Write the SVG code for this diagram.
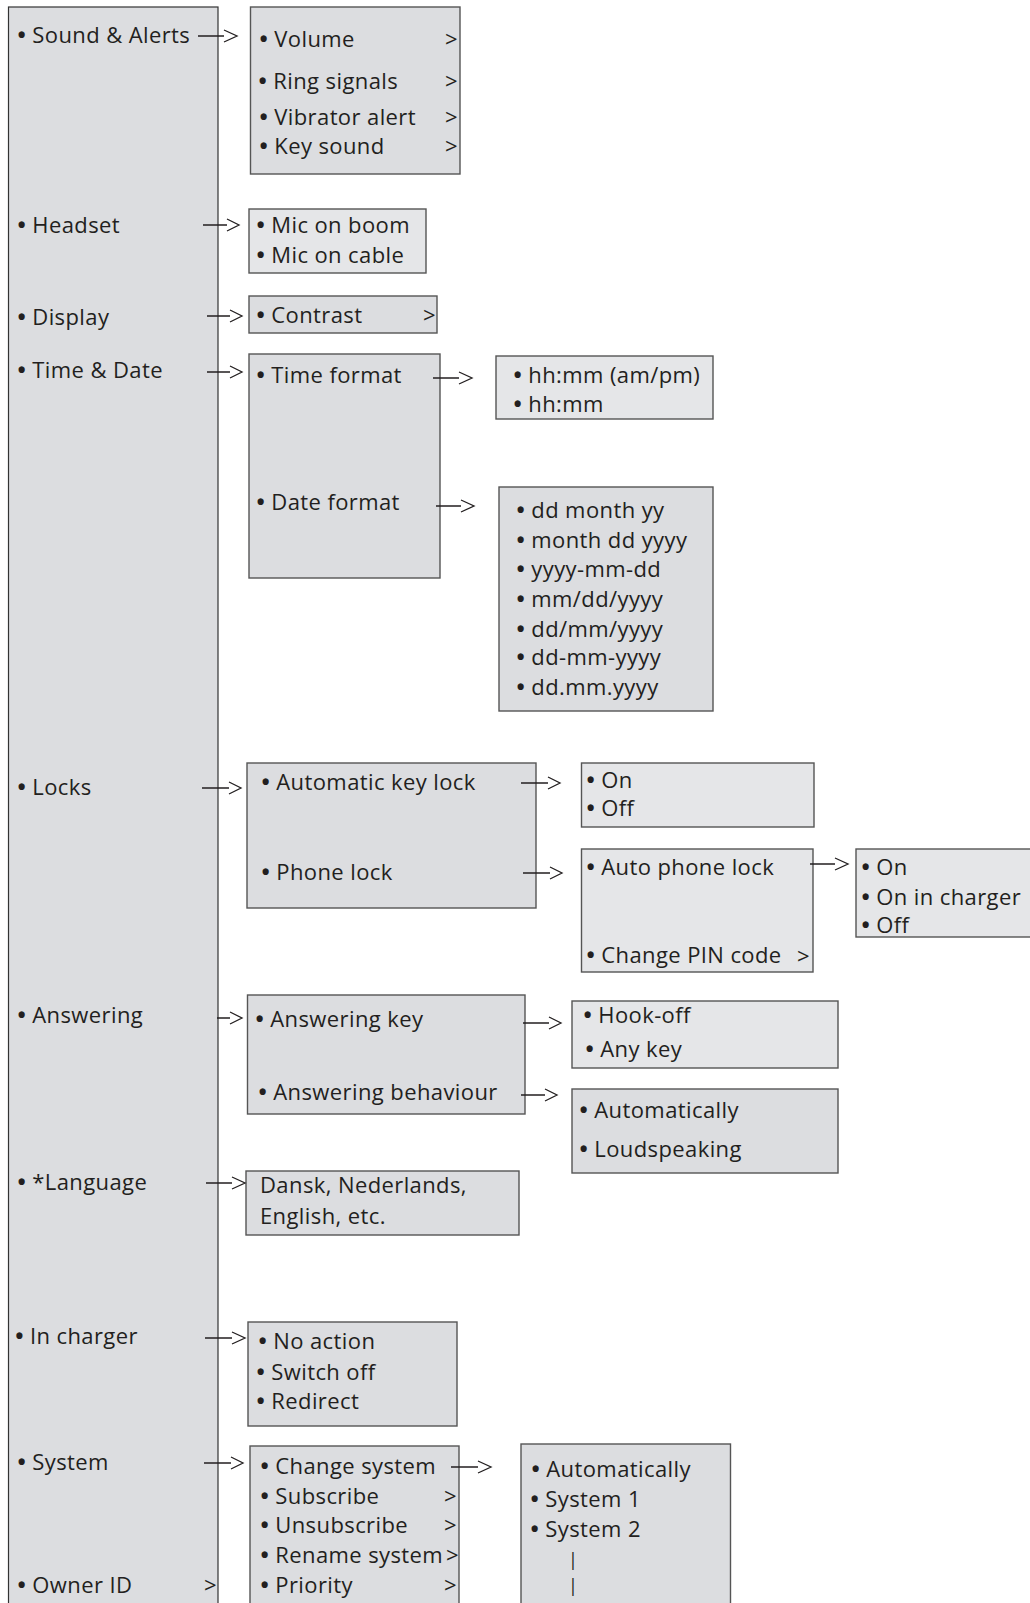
<svg xmlns="http://www.w3.org/2000/svg" width="1030" height="1603" viewBox="0 0 1030 1603">
<style>
text{font-family:"Open Sans","Liberation Sans",sans-serif;font-size:22px;letter-spacing:0.4px;fill:#231f20}
.b{font-weight:bold}
.gt{letter-spacing:0}
.box{fill:#dcdde0;stroke:#555;stroke-width:1.4}
.lt{fill:#e5e6e8}
.main{fill:#dcdde0;stroke:#333;stroke-width:1.2}
.conn path{fill:none;stroke:#231f20;stroke-width:1.3}
.bar{font-size:18px}
</style>
<rect width="1030" height="1603" fill="#fff"/>
<g id="main">
<rect class="main" x="8.5" y="7" width="209.5" height="1610"/>
<text x="17.5" y="43"><tspan class="b">•</tspan> Sound &amp; Alerts</text>
<text x="17.5" y="233"><tspan class="b">•</tspan> Headset</text>
<text x="17.5" y="325"><tspan class="b">•</tspan> Display</text>
<text x="17.5" y="378"><tspan class="b">•</tspan> Time &amp; Date</text>
<text x="17.5" y="795"><tspan class="b">•</tspan> Locks</text>
<text x="17.5" y="1023"><tspan class="b">•</tspan> Answering</text>
<text x="17.5" y="1190"><tspan class="b">•</tspan> *Language</text>
<text x="15.2" y="1344"><tspan class="b">•</tspan> In charger</text>
<text x="17.5" y="1470"><tspan class="b">•</tspan> System</text>
<text x="17.5" y="1593"><tspan class="b">•</tspan> Owner ID</text>
<text class="gt" x="204" y="1593">&gt;</text>
</g>
<g id="sound">
<rect class="box" x="250.5" y="7" width="209.5" height="167"/>
<text x="259.5" y="47"><tspan class="b">•</tspan> Volume</text>
<text x="258.5" y="89"><tspan class="b">•</tspan> Ring signals</text>
<text x="259.5" y="125"><tspan class="b">•</tspan> Vibrator alert</text>
<text x="259.5" y="154"><tspan class="b">•</tspan> Key sound</text>
<text class="gt" x="445" y="47">&gt;</text>
<text class="gt" x="445" y="89">&gt;</text>
<text class="gt" x="445" y="125">&gt;</text>
<text class="gt" x="445" y="154">&gt;</text>
</g>
<g id="headset">
<rect class="box lt" x="249" y="209" width="177" height="64"/>
<text x="256.5" y="233"><tspan class="b">•</tspan> Mic on boom</text>
<text x="256.5" y="263"><tspan class="b">•</tspan> Mic on cable</text>
</g>
<g id="display">
<rect class="box" x="249" y="296" width="188" height="37"/>
<text x="256.5" y="323"><tspan class="b">•</tspan> Contrast</text>
<text class="gt" x="423" y="323">&gt;</text>
</g>
<g id="timedate">
<rect class="box" x="249" y="354" width="191" height="224"/>
<text x="256.5" y="383"><tspan class="b">•</tspan> Time format</text>
<text x="256.5" y="510"><tspan class="b">•</tspan> Date format</text>
</g>
<g id="timeformat">
<rect class="box lt" x="496" y="356" width="217" height="63"/>
<text x="513.5" y="383"><tspan class="b">•</tspan> hh:mm (am/pm)</text>
<text x="513.5" y="412"><tspan class="b">•</tspan> hh:mm</text>
</g>
<g id="dateformat">
<rect class="box" x="499" y="487" width="214" height="224"/>
<text x="516.5" y="518"><tspan class="b">•</tspan> dd month yy</text>
<text x="516.5" y="548"><tspan class="b">•</tspan> month dd yyyy</text>
<text x="516.5" y="577"><tspan class="b">•</tspan> yyyy-mm-dd</text>
<text x="516.5" y="607"><tspan class="b">•</tspan> mm/dd/yyyy</text>
<text x="516.5" y="637"><tspan class="b">•</tspan> dd/mm/yyyy</text>
<text x="516.5" y="665"><tspan class="b">•</tspan> dd-mm-yyyy</text>
<text x="516.5" y="695"><tspan class="b">•</tspan> dd.mm.yyyy</text>
</g>
<g id="locks">
<rect class="box" x="247" y="763" width="289" height="145"/>
<text x="261.5" y="790"><tspan class="b">•</tspan> Automatic key lock</text>
<text x="261.5" y="880"><tspan class="b">•</tspan> Phone lock</text>
</g>
<g id="keylock">
<rect class="box lt" x="581.5" y="763" width="232.5" height="64"/>
<text x="586.5" y="788"><tspan class="b">•</tspan> On</text>
<text x="586.5" y="816"><tspan class="b">•</tspan> Off</text>
</g>
<g id="phonelock">
<rect class="box lt" x="581.5" y="849" width="231.5" height="123"/>
<text x="586.5" y="875"><tspan class="b">•</tspan> Auto phone lock</text>
<text x="586.5" y="963"><tspan class="b">•</tspan> Change PIN code</text>
<text class="gt" x="797" y="964">&gt;</text>
</g>
<g id="autophonelock">
<rect class="box lt" x="856" y="849" width="190" height="88"/>
<text x="861.5" y="875"><tspan class="b">•</tspan> On</text>
<text x="861.5" y="905"><tspan class="b">•</tspan> On in charger</text>
<text x="861.5" y="933"><tspan class="b">•</tspan> Off</text>
</g>
<g id="answering">
<rect class="box" x="247.5" y="995" width="277.5" height="119"/>
<text x="255.5" y="1027"><tspan class="b">•</tspan> Answering key</text>
<text x="258.5" y="1100"><tspan class="b">•</tspan> Answering behaviour</text>
</g>
<g id="answerkey">
<rect class="box lt" x="572" y="1001" width="266" height="67"/>
<text x="583.5" y="1023"><tspan class="b">•</tspan> Hook-off</text>
<text x="585.5" y="1057"><tspan class="b">•</tspan> Any key</text>
</g>
<g id="behaviour">
<rect class="box" x="572" y="1089" width="266" height="84"/>
<text x="579.5" y="1118"><tspan class="b">•</tspan> Automatically</text>
<text x="579.5" y="1157"><tspan class="b">•</tspan> Loudspeaking</text>
</g>
<g id="language">
<rect class="box" x="246" y="1171" width="273" height="64"/>
<text x="260" y="1193">Dansk, Nederlands,</text>
<text x="260" y="1224">English, etc.</text>
</g>
<g id="incharger">
<rect class="box" x="248" y="1322" width="209" height="104"/>
<text x="258.5" y="1349"><tspan class="b">•</tspan> No action</text>
<text x="256.5" y="1380"><tspan class="b">•</tspan> Switch off</text>
<text x="256.5" y="1409"><tspan class="b">•</tspan> Redirect</text>
</g>
<g id="system">
<rect class="box" x="250" y="1446" width="209" height="170"/>
<text x="260.5" y="1474"><tspan class="b">•</tspan> Change system</text>
<text x="260.5" y="1504"><tspan class="b">•</tspan> Subscribe</text>
<text x="260.5" y="1533"><tspan class="b">•</tspan> Unsubscribe</text>
<text x="260.5" y="1563" letter-spacing="0.2"><tspan class="b">•</tspan> Rename system</text>
<text x="260.5" y="1593"><tspan class="b">•</tspan> Priority</text>
<text class="gt" x="444" y="1504">&gt;</text>
<text class="gt" x="444" y="1533">&gt;</text>
<text class="gt" x="446" y="1563">&gt;</text>
<text class="gt" x="444" y="1593">&gt;</text>
</g>
<g id="changesystem">
<rect class="box" x="521" y="1444" width="209.5" height="172"/>
<text x="531.5" y="1477"><tspan class="b">•</tspan> Automatically</text>
<text x="530.5" y="1507"><tspan class="b">•</tspan> System 1</text>
<text x="530.5" y="1537"><tspan class="b">•</tspan> System 2</text>
<text class="bar" x="568" y="1566">|</text>
<text class="bar" x="568" y="1592">|</text>
</g>
<g id="connectors" class="conn">
<path d="M198,36H224M224,30L237,36L224,42"/>
<path d="M203,225H227M227,219L239,225L227,231"/>
<path d="M207,316H230M230,310L242,316L230,322"/>
<path d="M207,372H230M230,366L242,372L230,378"/>
<path d="M433,378H459M459,372L472,378L459,384"/>
<path d="M436,506H461M461,500L474,506L461,512"/>
<path d="M202,788H229M229,782L241,788L229,794"/>
<path d="M521,783H548M548,777L560,783L548,789"/>
<path d="M523,873H550M550,867L562,873L550,879"/>
<path d="M810,864H835M835,858L848,864L835,870"/>
<path d="M217,1018H230M230,1012L242,1018L230,1024"/>
<path d="M523,1023H549M549,1017L561,1023L549,1029"/>
<path d="M521,1095H545M545,1089L557,1095L545,1101"/>
<path d="M206,1183H232M232,1177L245,1183L232,1189"/>
<path d="M205,1338H232M232,1332L245,1338L232,1344"/>
<path d="M204,1463H231M231,1457L243,1463L231,1469"/>
<path d="M451,1467H478M478,1461L491,1467L478,1473"/>
</g>
</svg>
